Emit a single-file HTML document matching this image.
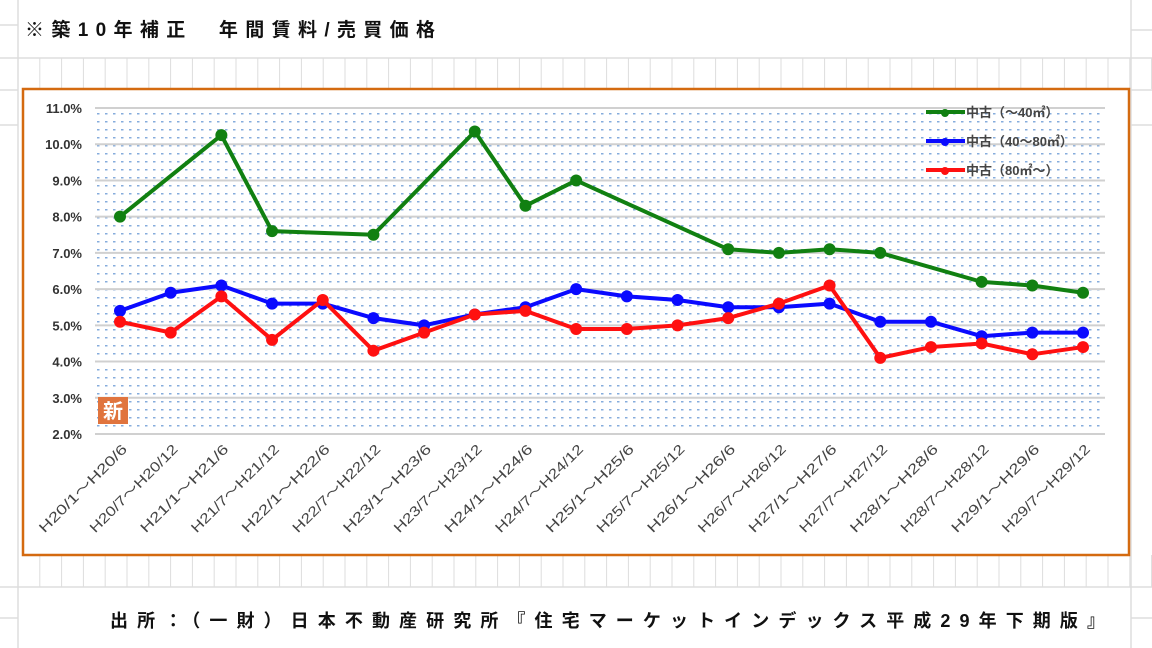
<!DOCTYPE html>
<html><head><meta charset="utf-8"><style>
body{margin:0;width:1152px;height:648px;background:#fff;overflow:hidden;font-family:"Liberation Sans","Noto Sans CJK JP",sans-serif}
svg{position:absolute;left:0;top:0}
</style></head><body>
<svg id="c" width="1152" height="648">
<defs><pattern id="dots" width="8" height="8" patternUnits="userSpaceOnUse"><rect x="1" y="1" width="2.5" height="1.5" fill="#86acdc"/></pattern></defs>
<g id="grid"></g>
<text x="25" y="36" font-size="19" font-weight="bold" fill="#111" textLength="410" lengthAdjust="spacing">※築10年補正　年間賃料/売買価格</text>
<rect x="23" y="89" width="1106" height="466" fill="#fff" stroke="#d46a10" stroke-width="2.5"/>
<rect x="95" y="109" width="1010" height="325" fill="url(#dots)"/>
<g id="yaxis"></g>
<g id="xaxis"></g>
<g id="series"></g>
<rect x="98" y="397" width="30" height="27" fill="#e0743e"/>
<text x="113" y="418" font-size="20" font-weight="bold" fill="#fff" text-anchor="middle">新</text>
<g id="legend"></g>
<text x="110" y="627" font-size="18" font-weight="bold" fill="#111" textLength="995" lengthAdjust="spacing">出所：（一財）日本不動産研究所『住宅マーケットインデックス平成29年下期版』</text>
</svg>
<script>
const categories=["H20/1～H20/6","H20/7～H20/12","H21/1～H21/6","H21/7～H21/12","H22/1～H22/6","H22/7～H22/12","H23/1～H23/6","H23/7～H23/12","H24/1～H24/6","H24/7～H24/12","H25/1～H25/6","H25/7～H25/12","H26/1～H26/6","H26/7～H26/12","H27/1～H27/6","H27/7～H27/12","H28/1～H28/6","H28/7～H28/12","H29/1～H29/6","H29/7～H29/12"];
const smallUnits=[8.0,null,10.25,7.6,null,7.5,null,10.35,8.3,9.0,null,null,7.1,7.0,7.1,7.0,null,6.2,6.1,5.9];
const midUnits=[5.4,5.9,6.1,5.6,5.6,5.2,5.0,5.3,5.5,6.0,5.8,5.7,5.5,5.5,5.6,5.1,5.1,4.7,4.8,4.8];
const largeUnits=[5.1,4.8,5.8,4.6,5.7,4.3,4.8,5.3,5.4,4.9,4.9,5.0,5.2,5.6,6.1,4.1,4.4,4.5,4.2,4.4];
const yTicks=[2,3,4,5,6,7,8,9,10,11];
const seriesNames=["中古（～40㎡）","中古（40～80㎡）","中古（80㎡～）"];
const NS="http://www.w3.org/2000/svg";
function mk(t,a,p){const e=document.createElementNS(NS,t);for(const k in a)e.setAttribute(k,a[k]);p.appendChild(e);return e;}
const yMin=2,yMax=11,yTop=108,yBot=434;
function y(v){return yBot-(v-yMin)/(yMax-yMin)*(yBot-yTop);}
const x0=120,x1=1083;
function x(i){return x0+i*(x1-x0)/(categories.length-1);}
const g=document.getElementById('grid');
for(let gx=18;gx<1152;gx+=21.8){
 let l=mk('line',{x1:gx,x2:gx,y1:58,y2:89,stroke:'#ddd','stroke-width':1},g);
 
 l=mk('line',{x1:gx,x2:gx,y1:555,y2:587,stroke:'#ddd','stroke-width':1},g);
 
}
[[18,0,18,648],[1131,0,1131,648],[0,58,1152,58],[0,587,1152,587],[0,25,18,25],[0,90,18,90],[0,125,18,125],[1131,30,1152,30],[1131,90,1152,90],[1131,125,1152,125],[0,618,18,618],[1131,618,1152,618]].forEach(a=>{
 const l=mk('line',{x1:a[0],y1:a[1],x2:a[2],y2:a[3],stroke:'#ddd','stroke-width':1.5},g);
 
});
const ya=document.getElementById('yaxis');
yTicks.forEach(v=>{
 const l=mk('line',{x1:95,x2:1105,y1:y(v),y2:y(v),stroke:'#d0d0d0','stroke-width':2},ya);
 
 const t=mk('text',{x:82,y:y(v)+5,'font-size':13,'font-weight':'bold',fill:'#333','text-anchor':'end'},ya);
 t.textContent=v.toFixed(1)+'%';
 
});
const xa=document.getElementById('xaxis');
categories.forEach((c,i)=>{
 const t=mk('text',{x:x(i)+8,y:450,'font-size':14,fill:'#444','text-anchor':'end',textLength:c.length>12?128:118,lengthAdjust:'spacingAndGlyphs',transform:`rotate(-45 ${x(i)+8} 450)`},xa);
 t.textContent=c;
 
});
const sg=document.getElementById('series');
const colors=['#118011','#0a0aff','#ff1010'];
[smallUnits,midUnits,largeUnits].forEach((arr,si)=>{
 const pts=[];arr.forEach((v,i)=>{if(v!==null)pts.push([x(i),y(v)]);});
 const pl=mk('polyline',{points:pts.map(p=>p.join(',')).join(' '),fill:'none',stroke:colors[si],'stroke-width':4,'stroke-linejoin':'round'},sg);
 
 pts.forEach(p=>{
  const c=mk('circle',{cx:p[0],cy:p[1],r:6,fill:colors[si]},sg);
  
 });
});
const lg=document.getElementById('legend');
seriesNames.forEach((n,i)=>{
 const ly=112+i*29;
 const l=mk('line',{x1:926,x2:965,y1:ly,y2:ly,stroke:colors[i],'stroke-width':4},lg);
 
 const c=mk('circle',{cx:945,cy:ly+1,r:4,fill:colors[i]},lg);
 
 const t=mk('text',{x:966,y:ly+5,'font-size':13,'font-weight':'bold',fill:'#444'},lg);
 t.textContent=n;
 
});
</script>
</body></html>
